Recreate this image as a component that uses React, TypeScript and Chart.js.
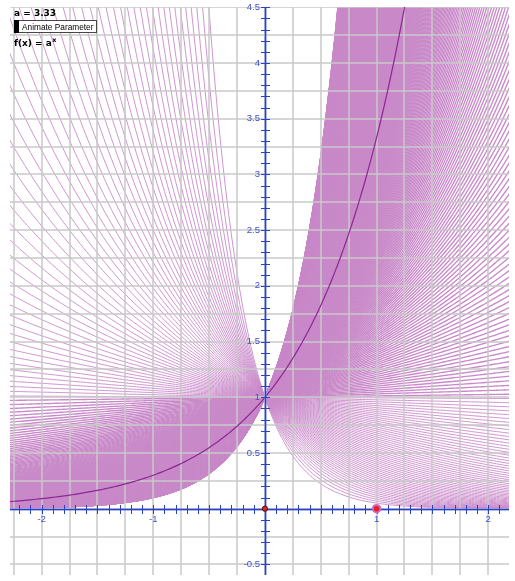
import React, { useEffect, useRef } from "react";
import { Chart, registerables } from "chart.js";

Chart.register(...registerables);

// ---- data ----
const X_RANGE = [-2.283, 2.186];
const Y_RANGE = [-0.595, 4.503];
const PARAM_A = 3.33; // current value of a (dark curve)
// traced values of the parameter a (animation sweep seen as the pink trace)
const TRACE_A_START = 0.05;
const TRACE_A_END = 10;
const TRACE_A_STEP = 0.0175;
const X_TICK_LABELS = [-2, -1, 1, 2];
const Y_TICK_LABELS = [4.5, 4, 3.5, 3, 2.5, 2, 1.5, 1, 0.5, -0.5];
const MARKED_POINTS_ORIGIN = [{ x: 0, y: 0 }];
const MARKED_POINTS_UNIT = [{ x: 1, y: 0 }];
const GRID_STEP = 0.25;
const MINOR_TICK_STEP = 0.1;
const SAMPLE_STEP = 0.025;

const REF_W = 515;
const REF_H = 581;

const sampleXs: number[] = [];
for (let x = -2.3; x <= 2.2 + 1e-9; x += SAMPLE_STEP) sampleXs.push(+x.toFixed(4));

const traceAs: number[] = [];
for (let a = TRACE_A_START; a <= TRACE_A_END + 1e-9; a += TRACE_A_STEP) traceAs.push(a);

const curve = (a: number) => sampleXs.map((x) => ({ x, y: Math.pow(a, x) }));

const BLUE = "rgb(45,65,195)";

function drawGrid(chart: any) {
  const { ctx, chartArea: ca, scales } = chart;
  const xs = scales.x, ys = scales.y;
  ctx.save();
  ctx.beginPath();
  ctx.rect(ca.left, ca.top, ca.right - ca.left, ca.bottom - ca.top);
  ctx.clip();
  ctx.strokeStyle = "rgb(200,200,200)";
  ctx.lineWidth = 1.5;
  for (let k = Math.ceil(X_RANGE[0] / GRID_STEP); k * GRID_STEP <= X_RANGE[1]; k++) {
    const px = Math.round(xs.getPixelForValue(k * GRID_STEP));
    ctx.beginPath();
    ctx.moveTo(px, ca.top);
    ctx.lineTo(px, ca.bottom);
    ctx.stroke();
  }
  for (let k = Math.ceil(Y_RANGE[0] / GRID_STEP); k * GRID_STEP <= Y_RANGE[1]; k++) {
    const py = Math.round(ys.getPixelForValue(k * GRID_STEP));
    ctx.beginPath();
    ctx.moveTo(ca.left, py);
    ctx.lineTo(ca.right, py);
    ctx.stroke();
  }
  ctx.restore();
}

function drawAxes(chart: any) {
  const { ctx, chartArea: ca, scales } = chart;
  const xs = scales.x, ys = scales.y;
  const x0 = Math.round(xs.getPixelForValue(0));
  const y0 = Math.round(ys.getPixelForValue(0));
  ctx.save();
  ctx.beginPath();
  ctx.rect(ca.left, ca.top, ca.right - ca.left, ca.bottom - ca.top);
  ctx.clip();
  ctx.strokeStyle = "rgba(110,130,225,0.55)";
  ctx.lineWidth = 3;
  ctx.beginPath();
  ctx.moveTo(ca.left, y0 + 0.5);
  ctx.lineTo(ca.right, y0 + 0.5);
  ctx.moveTo(x0 + 0.5, ca.top);
  ctx.lineTo(x0 + 0.5, ca.bottom);
  ctx.stroke();
  ctx.strokeStyle = BLUE;
  ctx.lineWidth = 1;
  ctx.beginPath();
  ctx.moveTo(ca.left, y0 + 0.5);
  ctx.lineTo(ca.right, y0 + 0.5);
  ctx.moveTo(x0 + 0.5, ca.top);
  ctx.lineTo(x0 + 0.5, ca.bottom);
  ctx.stroke();
  ctx.beginPath();
  for (let k = Math.ceil(X_RANGE[0] / MINOR_TICK_STEP); k * MINOR_TICK_STEP <= X_RANGE[1]; k++) {
    if (k === 0) continue;
    const px = Math.round(xs.getPixelForValue(k * MINOR_TICK_STEP)) + 0.5;
    ctx.moveTo(px, y0 - 4);
    ctx.lineTo(px, y0 + 5);
  }
  for (let k = Math.ceil(Y_RANGE[0] / MINOR_TICK_STEP); k * MINOR_TICK_STEP <= Y_RANGE[1]; k++) {
    if (k === 0) continue;
    const py = Math.round(ys.getPixelForValue(k * MINOR_TICK_STEP)) + 0.5;
    ctx.moveTo(x0 - 4, py);
    ctx.lineTo(x0 + 5, py);
  }
  ctx.stroke();
  ctx.restore();
  ctx.save();
  ctx.fillStyle = "rgb(60,80,205)";
  ctx.font = '9.5px "Liberation Sans", Arial, sans-serif';
  ctx.textAlign = "center";
  ctx.textBaseline = "middle";
  X_TICK_LABELS.forEach((v) => {
    ctx.fillText(String(v), xs.getPixelForValue(v), y0 + 10);
  });
  ctx.textAlign = "right";
  Y_TICK_LABELS.forEach((v) => {
    ctx.fillText(String(v), x0 - 5, ys.getPixelForValue(v));
  });
  ctx.restore();
}

function drawCaption(chart: any) {
  const { ctx } = chart;
  const sx = chart.width / REF_W;
  const sy = chart.height / REF_H;
  ctx.save();
  ctx.scale(sx, sy);
  ctx.fillStyle = "#000";
  ctx.textBaseline = "alphabetic";
  ctx.textAlign = "left";
  ctx.font = 'bold 9px "DejaVu Sans", sans-serif';
  ctx.fillText("a = 3.33", 14, 16);
  ctx.fillStyle = "#fff";
  ctx.fillRect(14, 21, 83, 12);
  ctx.strokeStyle = "rgb(70,70,70)";
  ctx.lineWidth = 1;
  ctx.strokeRect(14.5, 20.5, 82, 12);
  ctx.fillStyle = "#000";
  ctx.fillRect(14, 20, 5, 13);
  ctx.font = '8.3px "Liberation Sans", Arial, sans-serif';
  ctx.fillText("Animate Parameter", 22, 30);
  ctx.font = 'bold 9px "DejaVu Sans", sans-serif';
  ctx.fillText("f(x) = a", 14, 46);
  const w = ctx.measureText("f(x) = a").width;
  ctx.font = 'bold 6.5px "DejaVu Sans", sans-serif';
  ctx.fillText("x", 14 + w + 0.5, 42);
  ctx.restore();
}

const gspPlugin = {
  id: "gspDecor",
  beforeDraw(chart: any) {
    const { ctx, width, height } = chart;
    ctx.save();
    ctx.fillStyle = "#fff";
    ctx.fillRect(0, 0, width, height);
    ctx.restore();
  },
  beforeDatasetDraw(chart: any, args: any) {
    if (args.index === 2) drawGrid(chart);
    if (args.index === 1) drawAxes(chart);
  },
  afterDraw(chart: any) {
    drawCaption(chart);
  },
};

export default function App() {
  const ref = useRef<HTMLCanvasElement | null>(null);
  useEffect(() => {
    const canvas = ref.current;
    if (!canvas) return;
    const W = Math.max(100, document.documentElement.clientWidth || window.innerWidth || REF_W);
    const H = Math.max(100, document.documentElement.clientHeight || window.innerHeight || REF_H);
    canvas.width = W;
    canvas.height = H;
    canvas.style.width = W + "px";
    canvas.style.height = H + "px";
    const padL = (10 * W) / REF_W;
    const padT = (7 * H) / REF_H;
    const datasets: any[] = [
      {
        data: MARKED_POINTS_ORIGIN,
        showLine: false,
        pointRadius: 2.6,
        pointBackgroundColor: "rgb(235,30,30)",
        pointBorderColor: "rgb(70,20,20)",
        pointBorderWidth: 1,
      },
      {
        data: MARKED_POINTS_UNIT,
        showLine: false,
        pointRadius: 3.8,
        pointBackgroundColor: "rgb(230,30,40)",
        pointBorderColor: "rgb(200,110,200)",
        pointBorderWidth: 2,
      },
      {
        data: curve(PARAM_A),
        borderColor: "rgb(140,38,146)",
        borderWidth: 1.2,
        pointRadius: 0,
        tension: 0,
      },
      ...traceAs.map((a) => ({
        data: curve(a),
        borderColor: "rgb(201,138,201)",
        borderWidth: a > 1 ? 1.35 : 0.9,
        pointRadius: 0,
        tension: 0,
      })),
    ];
    const chart = new Chart(canvas, {
      type: "line",
      data: { datasets },
      options: {
        animation: false,
        responsive: false,
        devicePixelRatio: 1,
        events: [],
        parsing: false,
        normalized: true,
        layout: { padding: { left: padL, top: padT, right: 0, bottom: 0 } },
        plugins: { legend: { display: false }, tooltip: { enabled: false } },
        scales: {
          x: { type: "linear", min: X_RANGE[0], max: X_RANGE[1], display: false },
          y: { type: "linear", min: Y_RANGE[0], max: Y_RANGE[1], display: false },
        },
      } as any,
      plugins: [gspPlugin],
    });
    return () => chart.destroy();
  }, []);
  return (
    <div
      style={{
        position: "fixed",
        left: 0,
        top: 0,
        right: 0,
        bottom: 0,
        overflow: "hidden",
      }}
    >
      <canvas ref={ref} style={{ display: "block" }} />
    </div>
  );
}
